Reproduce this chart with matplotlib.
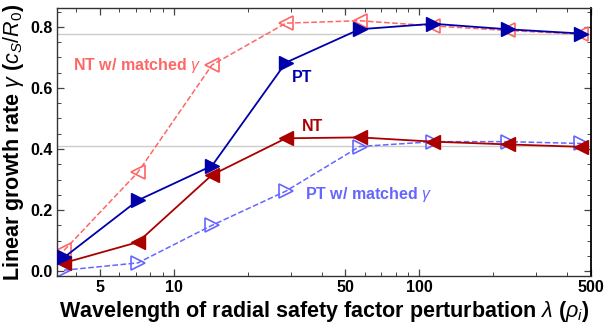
import matplotlib
matplotlib.use("Agg")
import matplotlib.pyplot as plt
from matplotlib.ticker import FixedLocator, NullFormatter, MultipleLocator

plt.rcParams['font.family'] = ['Liberation Sans', 'DejaVu Sans']
plt.rcParams['mathtext.fontset'] = 'custom'
plt.rcParams['mathtext.rm'] = 'Liberation Sans'
plt.rcParams['mathtext.it'] = 'Liberation Sans:italic'
plt.rcParams['mathtext.bf'] = 'Liberation Sans:bold'

# data
wavelength = [3.57, 7.14, 14.3, 28.6, 57.1, 114, 229, 457]
pt = [0.045, 0.232, 0.345, 0.683, 0.792, 0.810, 0.792, 0.778]
nt = [0.027, 0.095, 0.315, 0.435, 0.438, 0.424, 0.415, 0.407]
nt_matched = [0.068, 0.324, 0.675, 0.812, 0.820, 0.803, 0.788, 0.776]
pt_matched = [0.003, 0.027, 0.150, 0.262, 0.408, 0.424, 0.424, 0.418]
ref_lines = [0.777, 0.411]
xticks = [5, 10, 50, 100, 500]
xticklabels = ['5', '10', '50', '100', '500']
yticks = [0.0, 0.2, 0.4, 0.6, 0.8]

c_pt = '#0000AA'
c_nt = '#AA0000'
c_ntm = '#FF6666'
c_ptm = '#6666FF'

fig = plt.figure(figsize=(6.06, 3.29), dpi=100)
ax = fig.add_axes([0.094, 0.161, 0.881, 0.815])

for yv in ref_lines:
    ax.axhline(yv, color='#cccccc', lw=1.0, zorder=0)

ms = 9.5
ax.plot(wavelength, nt_matched, '--', color=c_ntm, lw=1.1, marker='<', ms=ms,
        mfc='none', mec=c_ntm, mew=1.2, zorder=2)
ax.plot(wavelength, pt_matched, '--', color=c_ptm, lw=1.1, marker='>', ms=ms,
        mfc='none', mec=c_ptm, mew=1.2, zorder=2)
ax.plot(wavelength, nt, '-', color=c_nt, lw=1.3, marker='<', ms=ms,
        mfc=c_nt, mec=c_nt, zorder=3)
ax.plot(wavelength, pt, '-', color=c_pt, lw=1.3, marker='>', ms=ms,
        mfc=c_pt, mec=c_pt, zorder=3)

ax.set_xscale('log')
ax.set_xlim(3.34, 500)
ax.set_ylim(-0.016, 0.862)

ax.xaxis.set_major_locator(FixedLocator(xticks))
ax.set_xticklabels(xticklabels)
ax.xaxis.set_minor_locator(FixedLocator([4, 6, 7, 8, 9, 20, 30, 40, 60, 70, 80, 90, 200, 300, 400]))
ax.xaxis.set_minor_formatter(NullFormatter())
ax.yaxis.set_major_locator(FixedLocator(yticks))
ax.set_yticklabels(['0.0', '0.2', '0.4', '0.6', '0.8'])
ax.yaxis.set_minor_locator(MultipleLocator(0.05))

ax.tick_params(which='both', direction='in', top=True, right=True, color='#444444')
ax.tick_params(which='major', length=5, width=0.9, labelsize=11.5, pad=3)
ax.tick_params(which='minor', length=3, width=0.7)
for lab in ax.get_xticklabels() + ax.get_yticklabels():
    lab.set_fontweight('bold')
for sp in ax.spines.values():
    sp.set_color('#333333')
    sp.set_linewidth(1.0)
ax.spines['right'].set_color('black')
ax.spines['right'].set_linewidth(1.3)

ax.set_xlabel(r'Wavelength of radial safety factor perturbation $\lambda$ ($\rho_i$)',
              fontsize=15.5, fontweight='bold', labelpad=3)
ax.set_ylabel(r'Linear growth rate $\gamma$ ($c_S/R_0$)',
              fontsize=15.5, fontweight='bold', labelpad=3)

ax.text(3.88, 0.672, r'NT w/ matched $\gamma$', color=c_ntm, fontsize=11.5,
        fontweight='bold', ha='left', va='center')
ax.text(30.3, 0.633, 'PT', color=c_pt, fontsize=11.5, fontweight='bold',
        ha='left', va='center')
ax.text(33.3, 0.472, 'NT', color=c_nt, fontsize=11.5, fontweight='bold',
        ha='left', va='center')
ax.text(34.2, 0.252, r'PT w/ matched $\gamma$', color=c_ptm, fontsize=11.5,
        fontweight='bold', ha='left', va='center')

fig.savefig('out.png', dpi=100)
